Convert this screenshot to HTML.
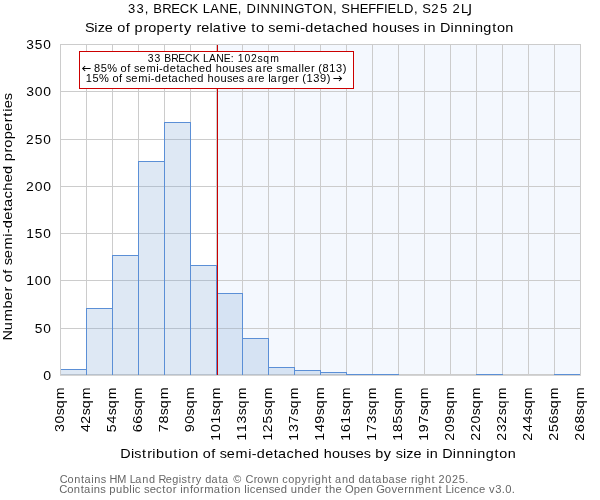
<!DOCTYPE html>
<html><head><meta charset="utf-8"><style>
html,body{margin:0;padding:0;background:#fff;width:600px;height:500px;overflow:hidden}
svg{display:block;will-change:transform}
text{font-family:"Liberation Sans", sans-serif;white-space:pre;stroke:currentColor;stroke-width:0px}
text.r{stroke:none}
</style></head><body>
<svg width="600" height="500" viewBox="0 0 600 500">
<rect width="600" height="500" fill="#fff"/>
<rect x="218" y="44" width="362" height="331" fill="#f4f8fe"/>
<path d="M60.5 44V375 M86.5 44V375 M112.5 44V375 M138.5 44V375 M164.5 44V375 M190.5 44V375 M216.5 44V375 M242.5 44V375 M268.5 44V375 M294.5 44V375 M320.5 44V375 M346.5 44V375 M372.5 44V375 M398.5 44V375 M424.5 44V375 M450.5 44V375 M476.5 44V375 M502.5 44V375 M528.5 44V375 M554.5 44V375 M580.5 44V375 M60 374.5H581 M60 328.5H581 M60 280.5H581 M60 233.5H581 M60 186.5H581 M60 139.5H581 M60 91.5H581 M60 44.5H581" stroke="#cccccc" stroke-width="1" fill="none" shape-rendering="crispEdges"/>
<rect x="60" y="369" width="26" height="6" fill="#7ba4d3" fill-opacity="0.25"/>
<rect x="86" y="308" width="26" height="67" fill="#7ba4d3" fill-opacity="0.25"/>
<rect x="112" y="255" width="26" height="120" fill="#7ba4d3" fill-opacity="0.25"/>
<rect x="138" y="161" width="26" height="214" fill="#7ba4d3" fill-opacity="0.25"/>
<rect x="164" y="122" width="26" height="253" fill="#7ba4d3" fill-opacity="0.25"/>
<rect x="190" y="265" width="26" height="110" fill="#7ba4d3" fill-opacity="0.25"/>
<rect x="216" y="293" width="26" height="82" fill="#7ba4d3" fill-opacity="0.25"/>
<rect x="242" y="338" width="26" height="37" fill="#7ba4d3" fill-opacity="0.25"/>
<rect x="268" y="367" width="26" height="8" fill="#7ba4d3" fill-opacity="0.25"/>
<rect x="294" y="370" width="26" height="5" fill="#7ba4d3" fill-opacity="0.25"/>
<rect x="320" y="372" width="26" height="3" fill="#7ba4d3" fill-opacity="0.25"/>
<rect x="346" y="374" width="26" height="1" fill="#7ba4d3" fill-opacity="0.25"/>
<rect x="372" y="374" width="26" height="1" fill="#7ba4d3" fill-opacity="0.25"/>
<rect x="476" y="374" width="26" height="1" fill="#7ba4d3" fill-opacity="0.25"/>
<rect x="554" y="374" width="26" height="1" fill="#7ba4d3" fill-opacity="0.25"/>
<path d="M60.5 375V369.5H86.5V375 M86.5 375V308.5H112.5V375 M112.5 375V255.5H138.5V375 M138.5 375V161.5H164.5V375 M164.5 375V122.5H190.5V375 M190.5 375V265.5H216.5V375 M216.5 375V293.5H242.5V375 M242.5 375V338.5H268.5V375 M268.5 375V367.5H294.5V375 M294.5 375V370.5H320.5V375 M320.5 375V372.5H346.5V375 M346.5 375V374.5H372.5V375 M372.5 375V374.5H398.5V375 M476.5 375V374.5H502.5V375 M554.5 375V374.5H580.5V375" stroke="#5b8fd6" stroke-width="1" fill="none" shape-rendering="crispEdges"/>
<path d="M60.5 44V376M580.5 44V376" stroke="#cccccc" stroke-width="1" fill="none" shape-rendering="crispEdges"/>
<rect x="60" y="375" width="521" height="1" fill="#d4d4d4"/>
<rect x="217" y="45" width="1" height="330" fill="#cc0000"/>
<rect x="79.5" y="51.5" width="274" height="37" fill="#ffffff" stroke="#cc0000" stroke-width="1" shape-rendering="crispEdges"/>
<path d="M470.1 4V13.1Q470.1 15.2 467.3 15.2" stroke="#000000" stroke-width="1.3" fill="none"/>
<path d="M90.60 68.5H82.80M85.20 66.00L82.70 68.5L85.20 71.00 M333.40 78.5H341.40M339.00 76.00L341.50 78.5L339.00 81.00" stroke="#000000" stroke-width="1.05" fill="none" stroke-linecap="butt" stroke-linejoin="miter"/>
<text transform="translate(127.45,13) scale(0.9966,1)" x="0.65 9.19 17.26 25.85 35 44 52.52 62.38 75.47 83.02 92.27 101.87 110.67 119.52 129.52 133.62 143.66 153.56 157.66 167.5 177.41 185.7 196.35 206.27 214.6 223.47 233.1 241.58 249.3 257.32 260.97 270.01 277.56 287.59 295.91 304.92 313.58 326.26 334.75" y="0" font-size="13.08" fill="#000000" style="color:#000000">33,BRECKLANE,DINNINGTON,SHEFFIELD,S252L</text>
<text transform="translate(85.47,32) scale(1.1066,1)" x="-0.45 7.91 11 17.49 28.72 36.51 44.42 52.35 56.63 64.23 71.74 79.6 84.56 89.08 100.3 104.62 112.18 114.92 123.24 127.69 131.12 138.08 149.77 154.05 165.19 171.63 179.43 190.96 194.09 198.58 206.23 214.08 217.9 225.61 232.55 240.12 247.58 259.16 266.69 274.19 281.64 288.08 295.38 305.78 309.13 320.36 329.95 333.3 340.96 348.63 351.98 359.55 367.61 371.89 379.44" y="0" font-size="13.08" fill="#000000" style="color:#000000">Sizeofpropertyrelativetosemi-detachedhousesinDinnington</text>
<text transform="translate(147.34,62) scale(0.8961,1)" x="0.49 7.95 18.75 26.73 34.6 42.03 50.63 62.08 68.73 76.8 85.18 93.15 100.89 108.4 115.7 123.05 129.33 137.25" y="0" font-size="11.63" fill="#000000" style="color:#000000">33BRECKLANE:102sqm</text>
<text transform="translate(81.68,72) scale(0.9495,1)" x="13.05 20.05 26.92 41.02 48.11 55.09 60.99 68.17 78.63 81.51 85.65 92.65 99.79 103.34 110.38 116.73 123.66 130.48 141.08 147.96 154.82 161.64 167.54 174.21 183.17 190.76 194.68 204.86 211.14 221.08 228.37 231.44 234.45 241.62 249.06 253.72 260.7 267.81 275.07" y="0" font-size="11.63" fill="#000000" style="color:#000000">85%ofsemi-detachedhousesaresmaller(813)</text>
<text transform="translate(85.58,82) scale(0.9518,1)" x="0.2 7.24 14.09 28.16 35.24 42.2 48.09 55.25 65.69 68.56 72.69 79.67 86.8 90.33 97.36 103.69 110.6 117.41 127.98 134.85 141.69 148.49 154.38 161.03 169.97 177.54 181.45 191.81 194.36 201.93 206 212.98 220.13 227.55 232.14 239.24 246.21 253.5" y="0" font-size="11.63" fill="#000000" style="color:#000000">15%ofsemi-detachedhousesarelarger(139)</text>
<text transform="translate(120.33,458) scale(1.1014,1)" x="-0.02 9.59 12.71 19.59 24.36 29.05 32.48 40.08 48.12 52.59 55.8 63.39 74.79 82.61 90.25 96.72 104.58 116.14 119.28 123.8 131.49 139.36 143.21 150.96 157.93 165.53 173.03 184.67 192.23 199.76 207.25 213.72 221.05 231.55 239.28 249.99 256.57 259.69 266.21 277.65 281.03 292.31 301.93 305.31 313 320.7 324.07 331.68 339.77 344.08 351.67" y="0" font-size="13.08" fill="#000000" style="color:#000000">Distributionofsemi-detachedhousesbysizeinDinnington</text>
<text transform="translate(60.10,483) scale(0.9393,1)" x="-0.37 7.98 14.97 22.27 25.87 33.22 36.39 43.23 52.52 60.9 74.24 80.12 87.53 94.53 104.8 112.39 119.29 126.41 129.33 135.62 140.03 144.45 154.46 161.09 168.71 172.32 184.25 197.32 206.07 210 217.02 226.13 236.47 242.77 249.8 256.91 263.71 268 271.08 278.24 285.56 292.72 300.13 307.13 317.78 324.4 332.03 335.63 343.09 349.58 356.74 362.71 373.49 377.78 380.86 388.02 395.34 402.9 410.16 417.12 424.34 431.33" y="0" font-size="11.63" fill="#666666" style="color:#666666">ContainsHMLandRegistrydata©Crowncopyrightanddatabaseright2025.</text>
<text transform="translate(59.77,493) scale(0.9660,1)" x="-0.48 7.67 14.46 21.61 25.07 32.27 35.3 41.96 51.35 58.16 65.14 71.98 75.01 77.75 87.24 93.03 99.53 106.05 109.92 116.98 124.63 127.65 134.74 138.23 145.29 149.6 159.39 166.86 170.86 173.75 180.54 190.87 193.9 196.64 202.8 209.59 216.25 222.04 228.75 239.14 246.07 252.88 259.76 266.82 274.73 278.72 285.52 295.29 304.37 311.12 317.91 327.71 336.54 343.41 349.66 356.72 360.79 367.92 378.17 384.96 392.1 399.34 405.61 408.36 414.51 421.3 427.91 434.07 444.39 450.75 457.54 461.1 467.91" y="0" font-size="11.63" fill="#666666" style="color:#666666">ContainspublicsectorinformationlicensedundertheOpenGovernmentLicencev3.0.</text>
<text transform="translate(42.86,380.00) scale(1.0799,1)" x="0.31" y="0" font-size="13.08" fill="#000000" style="color:#000000">0</text>
<text transform="translate(34.35,333.00) scale(1.0497,1)" x="0.37 8.53" y="0" font-size="13.08" fill="#000000" style="color:#000000">50</text>
<text transform="translate(25.85,285.00) scale(1.0649,1)" x="0.3 8.35 16.35" y="0" font-size="13.08" fill="#000000" style="color:#000000">100</text>
<text transform="translate(25.85,238.00) scale(1.0440,1)" x="0.38 8.54 16.74" y="0" font-size="13.08" fill="#000000" style="color:#000000">150</text>
<text transform="translate(25.85,191.00) scale(1.0673,1)" x="0.19 8.33 16.3" y="0" font-size="13.08" fill="#000000" style="color:#000000">200</text>
<text transform="translate(25.85,144.00) scale(1.0469,1)" x="0.26 8.51 16.69" y="0" font-size="13.08" fill="#000000" style="color:#000000">250</text>
<text transform="translate(25.85,96.00) scale(1.0657,1)" x="0.38 8.34 16.33" y="0" font-size="13.08" fill="#000000" style="color:#000000">300</text>
<text transform="translate(25.85,49.00) scale(1.0455,1)" x="0.45 8.53 16.72" y="0" font-size="13.08" fill="#000000" style="color:#000000">350</text>
<text class="r" transform="translate(12,340.31) rotate(-90) scale(1.1175,1)" x="-0.24 9.09 16.96 28.44 35.87 43.66 51.92 59.65 67.17 73.54 81.25 92.7 95.79 100.23 107.8 115.59 119.36 127 133.87 141.36 148.75 160.29 168.15 172.38 179.9 187.34 195.13 200.05 204.46 207.64 214.87" y="0" font-size="13.08" fill="#000000" style="color:#000000">Numberofsemi-detachedproperties</text>
<text class="r" transform="translate(64.00,432.39) rotate(-90) scale(1.0849,1)" x="0.31 8.13 15.72 22.32 30.54" y="0" font-size="13.08" fill="#000000" style="color:#000000">30sqm</text>
<text class="r" transform="translate(90.00,432.39) rotate(-90) scale(1.0860,1)" x="0.28 7.96 15.7 22.29 30.5" y="0" font-size="13.08" fill="#000000" style="color:#000000">42sqm</text>
<text class="r" transform="translate(116.00,432.39) rotate(-90) scale(1.0816,1)" x="0.25 8.17 15.78 22.4 30.65" y="0" font-size="13.08" fill="#000000" style="color:#000000">54sqm</text>
<text class="r" transform="translate(142.00,432.39) rotate(-90) scale(1.1070,1)" x="0.21 7.9 15.34 21.8 29.82" y="0" font-size="13.08" fill="#000000" style="color:#000000">66sqm</text>
<text class="r" transform="translate(168.00,432.39) rotate(-90) scale(1.0910,1)" x="0.24 8.07 15.62 22.17 30.34" y="0" font-size="13.08" fill="#000000" style="color:#000000">78sqm</text>
<text class="r" transform="translate(194.00,432.39) rotate(-90) scale(1.0995,1)" x="0.2 7.98 15.47 21.97 30.06" y="0" font-size="13.08" fill="#000000" style="color:#000000">90sqm</text>
<text class="r" transform="translate(220.00,440.90) rotate(-90) scale(1.0769,1)" x="0.25 8.22 16.05 23.76 30.41 38.71" y="0" font-size="13.08" fill="#000000" style="color:#000000">101sqm</text>
<text class="r" transform="translate(246.00,440.90) rotate(-90) scale(1.0700,1)" x="0.28 8.23 16.27 23.94 30.63 38.99" y="0" font-size="13.08" fill="#000000" style="color:#000000">113sqm</text>
<text class="r" transform="translate(272.00,440.90) rotate(-90) scale(1.0682,1)" x="0.28 8.15 16.23 23.98 30.69 39.06" y="0" font-size="13.08" fill="#000000" style="color:#000000">125sqm</text>
<text class="r" transform="translate(298.00,440.90) rotate(-90) scale(1.0735,1)" x="0.26 8.27 16.16 23.85 30.52 38.85" y="0" font-size="13.08" fill="#000000" style="color:#000000">137sqm</text>
<text class="r" transform="translate(324.00,440.90) rotate(-90) scale(1.0895,1)" x="0.2 8.08 15.85 23.45 30.02 38.2" y="0" font-size="13.08" fill="#000000" style="color:#000000">149sqm</text>
<text class="r" transform="translate(350.00,440.90) rotate(-90) scale(1.0829,1)" x="0.23 8.15 15.95 23.62 30.22 38.46" y="0" font-size="13.08" fill="#000000" style="color:#000000">161sqm</text>
<text class="r" transform="translate(376.00,440.90) rotate(-90) scale(1.0735,1)" x="0.26 8.23 16.2 23.85 30.52 38.85" y="0" font-size="13.08" fill="#000000" style="color:#000000">173sqm</text>
<text class="r" transform="translate(402.00,440.90) rotate(-90) scale(1.0762,1)" x="0.25 8.23 16.09 23.78 30.43 38.74" y="0" font-size="13.08" fill="#000000" style="color:#000000">185sqm</text>
<text class="r" transform="translate(428.00,440.90) rotate(-90) scale(1.0860,1)" x="0.22 8.08 15.93 23.54 30.13 38.34" y="0" font-size="13.08" fill="#000000" style="color:#000000">197sqm</text>
<text class="r" transform="translate(454.00,440.90) rotate(-90) scale(1.0905,1)" x="0.11 8.07 15.84 23.43 29.99 38.15" y="0" font-size="13.08" fill="#000000" style="color:#000000">209sqm</text>
<text class="r" transform="translate(480.00,440.90) rotate(-90) scale(1.0791,1)" x="0.15 8.03 16.08 23.71 30.34 38.62" y="0" font-size="13.08" fill="#000000" style="color:#000000">220sqm</text>
<text class="r" transform="translate(506.00,440.90) rotate(-90) scale(1.0723,1)" x="0.17 8.29 16.04 23.88 30.56 38.9" y="0" font-size="13.08" fill="#000000" style="color:#000000">232sqm</text>
<text class="r" transform="translate(532.00,440.90) rotate(-90) scale(1.0850,1)" x="0.13 8.13 15.97 23.56 30.16 38.38" y="0" font-size="13.08" fill="#000000" style="color:#000000">244sqm</text>
<text class="r" transform="translate(558.00,440.90) rotate(-90) scale(1.0812,1)" x="0.14 8.12 16.04 23.66 30.27 38.53" y="0" font-size="13.08" fill="#000000" style="color:#000000">256sqm</text>
<text class="r" transform="translate(584.00,440.90) rotate(-90) scale(1.0928,1)" x="0.1 8.05 15.83 23.37 29.92 38.06" y="0" font-size="13.08" fill="#000000" style="color:#000000">268sqm</text>
</svg>
</body></html>
